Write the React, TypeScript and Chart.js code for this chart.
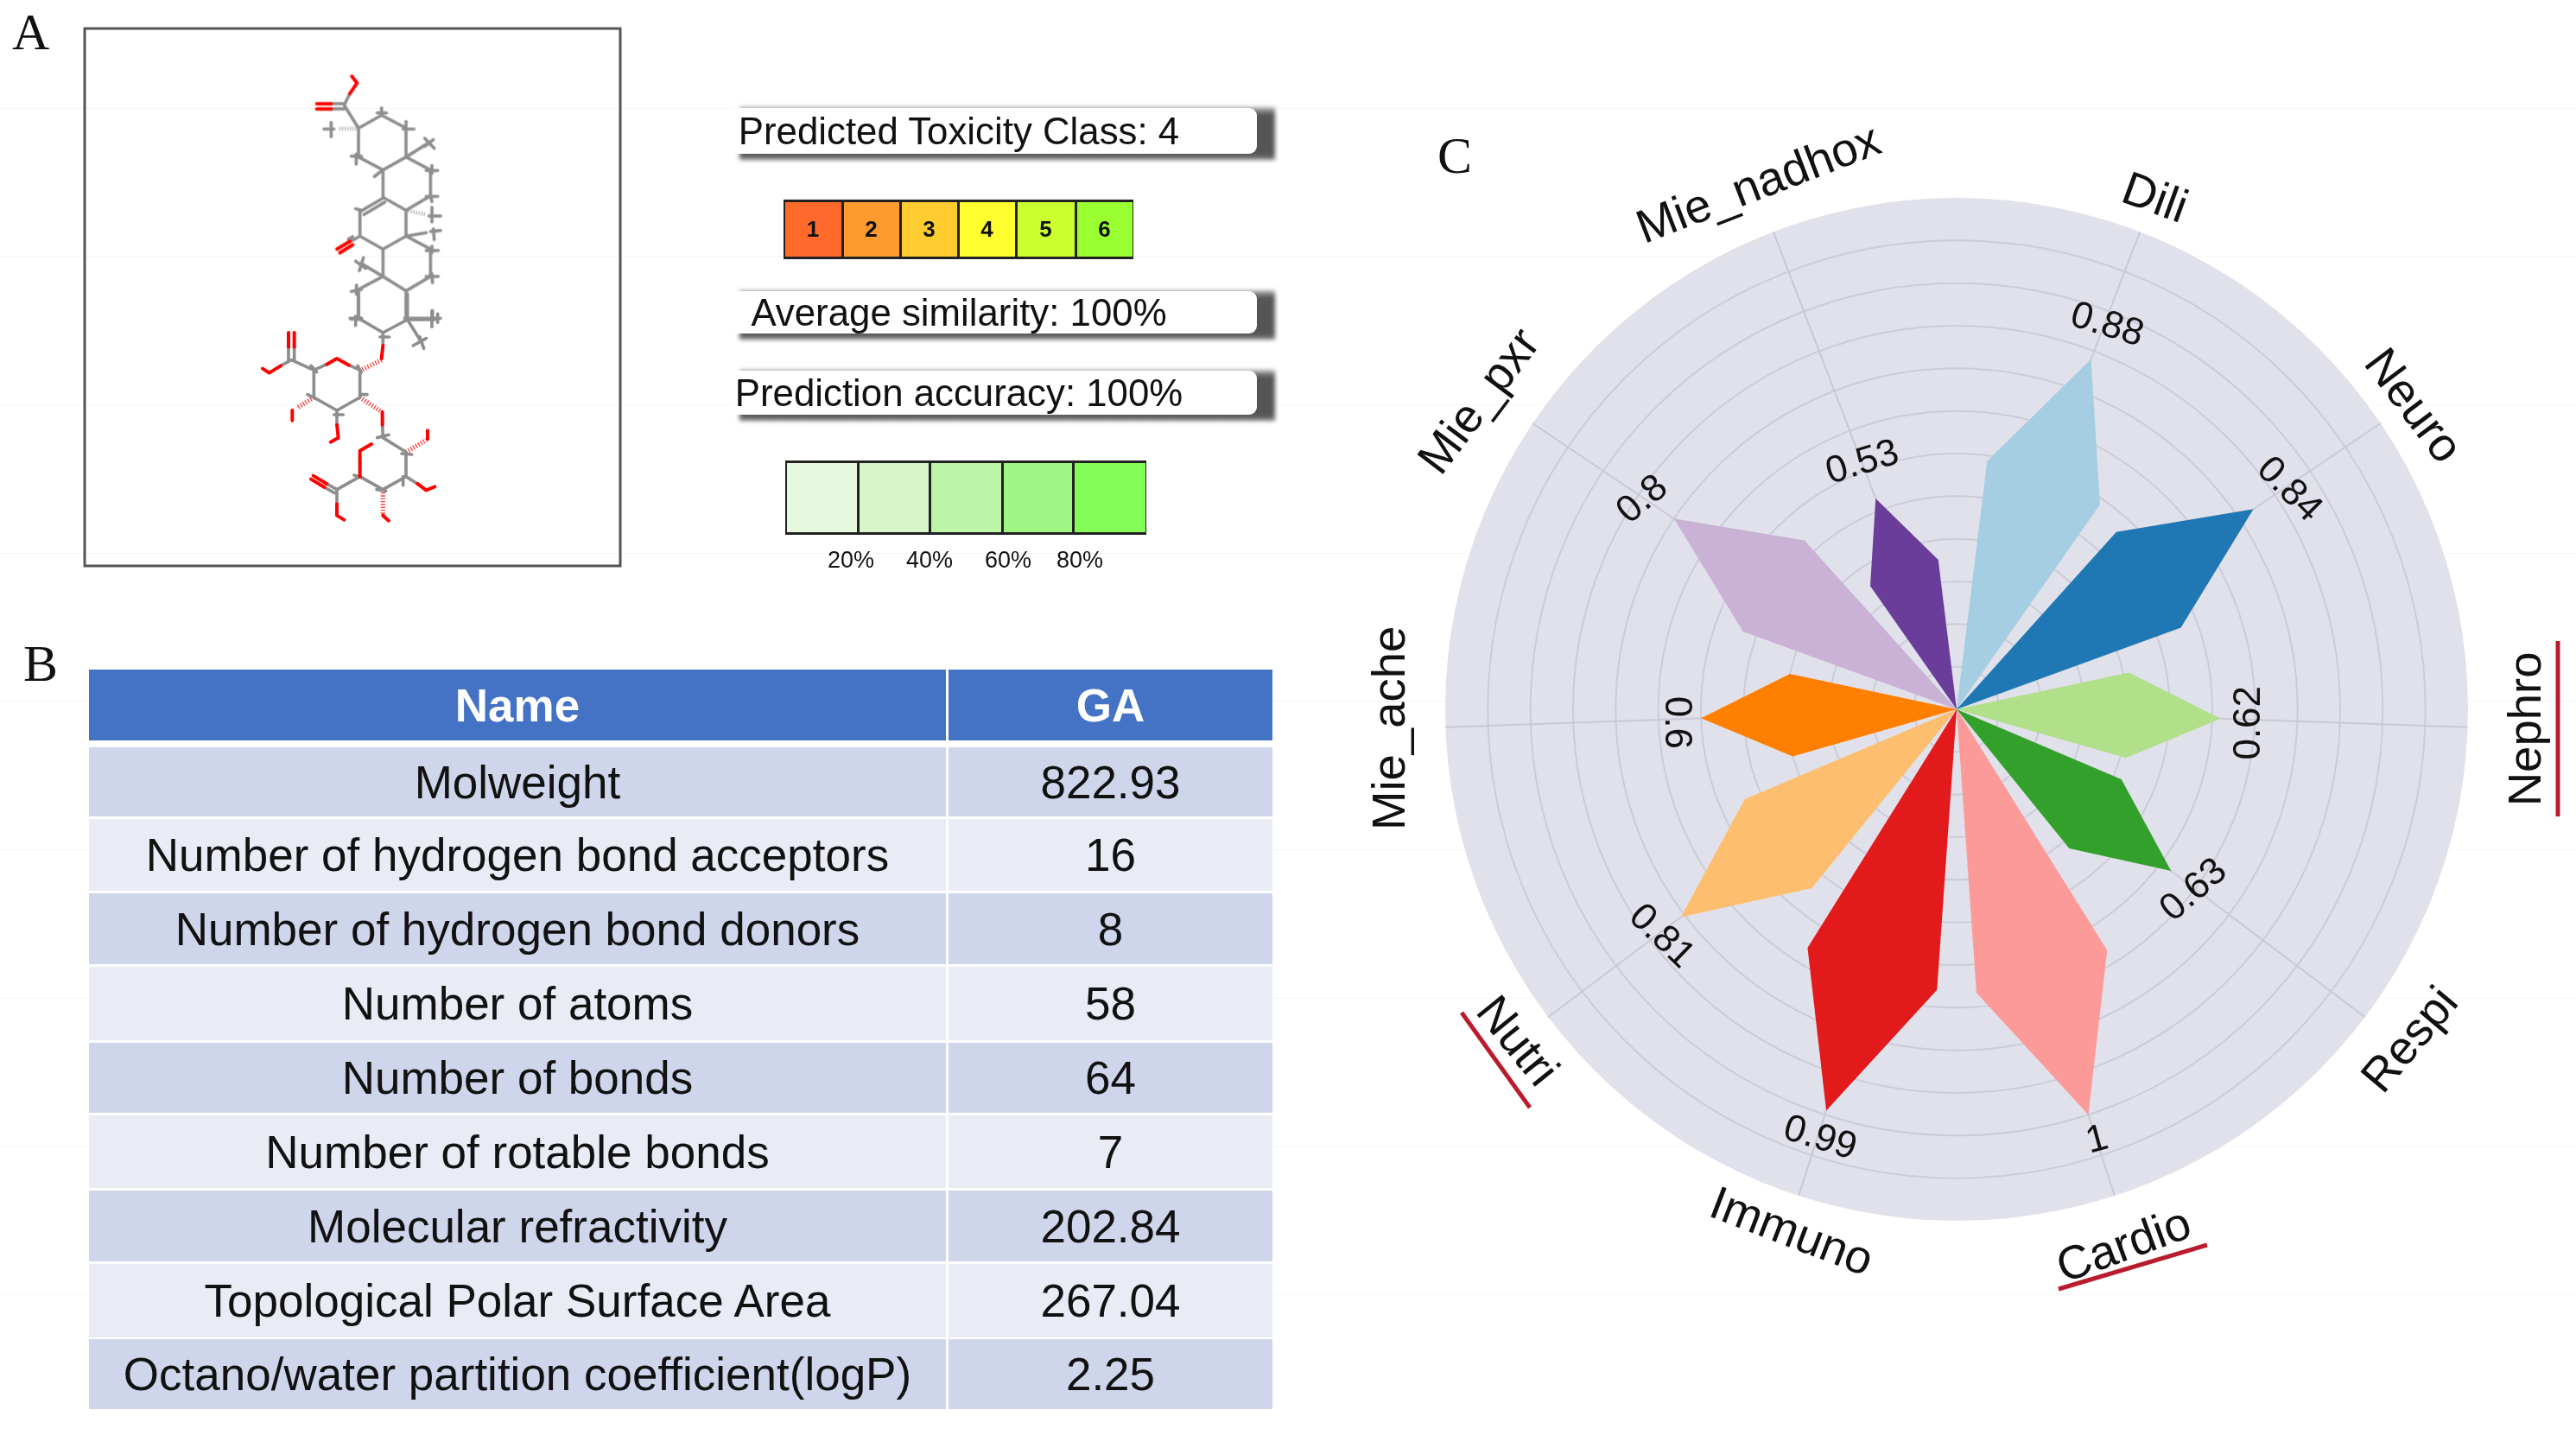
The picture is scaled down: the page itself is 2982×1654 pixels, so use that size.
import React, { useEffect, useRef } from "react";
import { Chart, registerables } from "chart.js";

Chart.register(...registerables);

// ---- data ----
const categories = ["Dili", "Neuro", "Nephro", "Respi", "Cardio", "Immuno", "Nutri", "Mie_ache", "Mie_pxr", "Mie_nadhox"];
const toxicityValues = [0.88, 0.84, 0.62, 0.63, 1, 0.99, 0.81, 0.6, 0.8, 0.53];
const sliceColors = ["#a6cee3", "#1f78b4", "#b2df8a", "#33a02c", "#fb9a99", "#e31a1c", "#fdbf6f", "#ff7f00", "#cab2d6", "#6a3d9a"];

const tableNames = [
  "Molweight",
  "Number of hydrogen bond acceptors",
  "Number of hydrogen bond donors",
  "Number of atoms",
  "Number of bonds",
  "Number of rotable bonds",
  "Molecular refractivity",
  "Topological Polar Surface Area",
  "Octano/water partition coefficient(logP)",
];
const tableValues = ["822.93", "16", "8", "58", "64", "7", "202.84", "267.04", "2.25"];

const classLabels = ["1", "2", "3", "4", "5", "6"];
const classColors = ["#ff6a2b", "#ff9a2f", "#ffcc30", "#ffff30", "#ccff30", "#9aff30"];
const accuracyColors = ["#e6f8dd", "#d6f5c9", "#bcf4a8", "#a0f585", "#84fd58"];
const accuracyLabels = ["20%", "40%", "60%", "80%"];

// ---- layout of the polar panel (degrees clockwise from the top; 1 category = 1 degree) ----
const spokeDegrees = [21, 56, 92, 127, 162, 198, 233, 268, 304, 339];
const labelDistance = [638, 633, 655, 648, 658, 634, 634, 654, 655, 649];
const labelRotation = [20, 53, -90, -50, -20, 21, 51, -90, -53, -21];
const labelNudgeX = [0, 2, 6, 9, -9, 4, -4, 0, -8, 4];
const labelNudgeY = [6, 4, 0, -6, -3, 4, 4, -1, 11, 0];
const valueOffset = [46, 47, 31, 31, 27, 30, 31, 31, 46, 48];
const valueRotation = [17, 45, -90, -41, -15, 17, 44, 90, -40, -17];
const SIDE_SPREAD = 14;
const SIDE_RATIO = 2 / 3;
const FONT = '"Liberation Sans", Arial, sans-serif';

const degreeLabels = Array.from({ length: 360 }, (_, d) => {
  const i = spokeDegrees.indexOf(d);
  return i >= 0 ? categories[i] : "";
});

function kite(index: number) {
  const data: (number | null)[] = new Array(360).fill(null);
  const d = spokeDegrees[index];
  const v = toxicityValues[index];
  const wrap = (a: number) => (a + 360) % 360;
  data[wrap(d - SIDE_SPREAD)] = v * SIDE_RATIO;
  data[wrap(d)] = v;
  data[wrap(d + SIDE_SPREAD)] = v * SIDE_RATIO;
  data[wrap(d + SIDE_SPREAD + 1)] = 0;
  return data;
}

const rotatedLabels = {
  id: "rotatedLabels",
  afterDatasetsDraw(chart: any) {
    const scale = chart.scales.r;
    const ctx = chart.ctx;
    ctx.save();
    ctx.fillStyle = "#111";
    ctx.textAlign = "center";
    ctx.textBaseline = "middle";
    categories.forEach((name, i) => {
      const a = scale.getPointPosition(spokeDegrees[i], labelDistance[i]);
      ctx.save();
      ctx.translate(a.x + labelNudgeX[i], a.y + labelNudgeY[i]);
      ctx.rotate((labelRotation[i] * Math.PI) / 180);
      ctx.font = `54.5px ${FONT}`;
      ctx.fillText(name, 0, 0);
      ctx.restore();
      const dist = scale.getDistanceFromCenterForValue(toxicityValues[i]) + valueOffset[i];
      const b = scale.getPointPosition(spokeDegrees[i], dist);
      ctx.save();
      ctx.translate(b.x + 2, b.y + 4);
      ctx.rotate((valueRotation[i] * Math.PI) / 180);
      ctx.font = `44px ${FONT}`;
      ctx.fillText(String(toxicityValues[i]), 0, 0);
      ctx.restore();
    });
    ctx.restore();
  },
};

function PolarChart() {
  const ref = useRef<HTMLCanvasElement>(null);
  useEffect(() => {
    const chart = new Chart(ref.current as HTMLCanvasElement, {
      type: "radar",
      data: {
        labels: degreeLabels,
        datasets: categories.map((name, i) => ({
          label: name,
          data: kite(i),
          backgroundColor: sliceColors[i],
          borderWidth: 0,
          pointRadius: 0,
          spanGaps: true,
          tension: 0,
          fill: "shape",
        })) as any,
      },
      options: {
        responsive: false,
        animation: false,
        devicePixelRatio: 1,
        layout: { padding: 128 },
        plugins: { legend: { display: false }, tooltip: { enabled: false } },
        scales: {
          r: {
            min: 0,
            max: 1.2,
            backgroundColor: "#e0e1ea",
            ticks: { display: false, stepSize: 0.1 },
            pointLabels: { display: false },
            grid: {
              circular: true,
              lineWidth: 2,
              color: (c: any) => (c.tick && c.tick.value >= 1.19 ? "rgba(0,0,0,0)" : "#cbccd8"),
            },
            angleLines: {
              color: "#c8c9d5",
              lineWidth: (c: any) => (spokeDegrees.includes(c.index) ? 2 : 0),
            },
          },
        },
      } as any,
      plugins: [rotatedLabels],
    });
    return () => chart.destroy();
  }, []);
  return <canvas ref={ref} width={1440} height={1440} style={{ position: "absolute", left: 1545, top: 101, width: 1440, height: 1440 }} />;
}

// ---- table geometry ----
const rowTops = [865, 948, 1034, 1119, 1207, 1291, 1378, 1463, 1550];
const rowBottoms = [945, 1031, 1116, 1204, 1288, 1375, 1460, 1548, 1631];

function Cell(p: { left: number; top: number; w: number; h: number; bg?: string; color?: string; bold?: boolean; size?: number; children?: any }) {
  return (
    <div
      style={{
        position: "absolute",
        left: p.left,
        top: p.top,
        width: p.w,
        height: p.h,
        background: p.bg,
        color: p.color ?? "#111",
        fontWeight: p.bold ? 700 : 400,
        fontSize: p.size ?? 53,
        display: "flex",
        alignItems: "center",
        justifyContent: "center",
        whiteSpace: "nowrap",
      }}
    >
      {p.children}
    </div>
  );
}

function Banner(p: { top: number; bottom: number; text: string; textCx: number }) {
  const h = p.bottom - p.top;
  return (
    <div>
      <div
        style={{
          position: "absolute",
          left: 856,
          top: p.top - 1,
          width: 620,
          height: h + 8,
          filter: "blur(2.5px)",
          background: "linear-gradient(#bdbdbd 0%,#555 14%,#555 88%,#777 100%)",
        }}
      />
      <div style={{ position: "absolute", left: 1470, top: p.top - 4, width: 8, height: h + 14, background: "#fff", opacity: 0 }} />
      <div style={{ position: "absolute", left: 851, top: p.top, width: 604, height: h, background: "#fff", borderRadius: "0 9px 9px 0" }} />
      <div style={{ position: "absolute", left: p.textCx - 400, top: p.top, width: 800, height: h, fontSize: 43.8, color: "#111", display: "flex", alignItems: "center", justifyContent: "center", whiteSpace: "nowrap" }}>
        {p.text}
      </div>
    </div>
  );
}

// ---- molecule drawing, in units of one third of a pixel ----
type Seg = number[];
const gray4: Seg[] = [
  [405, 235, 485, 190, 570, 235, 570, 335, 490, 380, 405, 335, 405, 235],
  [405, 235, 355, 155, 375, 115],
  [355, 150, 310, 150], [355, 168, 310, 168],
  [285, 238, 320, 238], [310, 215, 310, 265],
  [470, 182, 502, 182], [485, 165, 485, 190],
  [570, 212, 570, 235], [560, 238, 598, 238],
  [380, 332, 415, 332], [397, 325, 397, 360],
  [490, 380, 460, 403],
  [570, 335, 650, 285], [635, 270, 668, 305], [665, 275, 635, 298],
  [570, 335, 655, 380, 655, 470, 570, 520], [640, 382, 680, 382], [660, 365, 660, 392],
  [640, 472, 680, 472], [655, 470, 660, 490],
  [490, 380, 490, 475, 570, 520, 570, 610, 490, 655, 410, 610, 410, 525],
  [410, 525, 490, 478], [424, 535, 496, 492], [395, 515, 415, 520],
  [410, 610, 375, 630], [385, 612, 370, 620],
  [570, 610, 640, 598], [655, 594, 690, 590], [665, 585, 668, 622],
  [650, 540, 690, 540], [660, 510, 660, 560],
  [570, 610, 655, 655, 655, 750, 570, 800, 490, 750, 490, 655],
  [640, 660, 682, 660], [660, 645, 660, 668],
  [640, 750, 682, 750], [660, 740, 662, 772],
  [490, 750, 415, 705], [395, 697, 430, 722], [422, 685, 408, 730],
  [490, 750, 405, 795, 405, 900], [380, 802, 415, 795], [398, 780, 398, 812],
  [570, 800, 570, 900], [375, 895, 415, 895], [565, 895, 690, 895], [662, 868, 662, 900],
];
const hash4: Seg[] = [[405, 237, 335, 237], [570, 520, 640, 535]];
const red4: Seg[] = [
  [375, 115, 400, 78, 382, 55],
  [310, 150, 260, 150], [310, 168, 260, 168],
  [375, 628, 330, 655], [385, 640, 340, 668],
];
const gray5: Seg[] = [
  [405, 0, 405, 85, 490, 135, 575, 90, 575, 0],
  [380, 88, 415, 85], [395, 78, 395, 110],
  [575, 90, 670, 90], [660, 60, 660, 115], [680, 70, 680, 100],
  [575, 90, 625, 170], [595, 180, 640, 155], [618, 150, 632, 190],
  [490, 135, 490, 180], [480, 150, 512, 150],
  [372, 248, 410, 265, 410, 360, 330, 405, 250, 360, 250, 265, 295, 245],
  [250, 265, 172, 230, 135, 250], [162, 230, 162, 185], [182, 230, 182, 185],
  [240, 250, 260, 272], [402, 250, 415, 272], [415, 350, 435, 350], [228, 350, 258, 365],
  [330, 405, 330, 455], [320, 420, 352, 420],
  [488, 455, 490, 500, 570, 550, 570, 635, 490, 680, 410, 635], [470, 500, 510, 490], [555, 555, 590, 558], [560, 635, 560, 665],
  [468, 680, 500, 685],
  [410, 635, 330, 680], [390, 630, 420, 640],
  [330, 680, 295, 660], [322, 692, 287, 672],
  [330, 680, 330, 730],
  [570, 635, 610, 660],
];
const red5: Seg[] = [
  [295, 245, 330, 225, 372, 248],
  [490, 180, 485, 225],
  [162, 185, 162, 135], [182, 185, 182, 135],
  [135, 250, 95, 275, 72, 260],
  [175, 405, 175, 440],
  [330, 455, 335, 500, 308, 515],
  [488, 410, 488, 455],
  [410, 590, 410, 545, 450, 522],
  [410, 635, 410, 590],
  [645, 475, 645, 505],
  [610, 660, 640, 682, 670, 670],
  [490, 770, 510, 788],
  [295, 660, 248, 632], [287, 672, 240, 644],
  [330, 730, 330, 770, 355, 785],
];
const hash5Red: Seg[] = [[485, 230, 415, 265], [250, 360, 190, 397], [410, 360, 482, 408], [570, 550, 640, 508], [490, 680, 490, 770]];

function Lines(p: { segs: Seg[]; stroke: string; w: number; dash?: string }) {
  return (
    <g fill="none" stroke={p.stroke} strokeWidth={p.w} strokeDasharray={p.dash} strokeLinecap={p.dash ? "butt" : "round"} strokeLinejoin="round">
      {p.segs.map((s, i) => (
        <polyline key={i} points={s.join(" ")} />
      ))}
    </g>
  );
}

function Overlay() {
  return (
    <svg width={2982} height={1654} style={{ position: "absolute", left: 0, top: 0 }}>
      <rect x={98} y={33} width={620} height={622} fill="none" stroke="#555" strokeWidth={3} />
      <g style={{ filter: "blur(0.6px)" }}>
        <g transform="translate(280 70) scale(0.3333)">
          <Lines segs={hash4} stroke="#9a9a9a" w={14} dash="3 6" />
          <Lines segs={gray4} stroke="#8e8e8e" w={11} />
          <Lines segs={red4} stroke="#ff0000" w={12} />
        </g>
        <g transform="translate(280 340) scale(0.3333)">
          <Lines segs={hash5Red} stroke="#ff4040" w={16} dash="4 6" />
          <Lines segs={gray5} stroke="#8e8e8e" w={11} />
          <Lines segs={red5} stroke="#ff0000" w={12} />
        </g>
      </g>
      <line x1={2961} y1={742} x2={2961} y2={945} stroke="#b91c2c" strokeWidth={5} />
      <line x1={2383} y1={1492} x2={2555} y2={1441} stroke="#b91c2c" strokeWidth={5} />
      <line x1={1692} y1={1172} x2={1771} y2={1282} stroke="#b91c2c" strokeWidth={5} />
    </svg>
  );
}

const faintLines = [125, 296, 468, 640, 811, 983, 1155, 1326, 1498];
const classEdges = [907, 975, 1042, 1109, 1176, 1245, 1312];
const accuracyEdges = [909, 993, 1076, 1160, 1242, 1327];
const accuracyLabelCenters = [985, 1076, 1167, 1250];

export default function App() {
  return (
    <div style={{ position: "fixed", left: 0, top: 0, width: 2982, height: 1654, overflow: "hidden", background: "#fff", fontFamily: FONT }}>
      {faintLines.map((y) => (
        <div key={y} style={{ position: "absolute", left: 0, top: y, width: 2982, height: 1, background: "#f6f6f6" }} />
      ))}

      <PolarChart />
      <Overlay />

      {[["A", 14, 7], ["B", 27, 738], ["C", 1664, 150]].map(([t, l, tp]) => (
        <div key={t as string} style={{ position: "absolute", left: l as number, top: tp as number, fontFamily: '"Liberation Serif", serif', fontSize: 60, lineHeight: "60px", color: "#111" }}>
          {t}
        </div>
      ))}

      <Banner top={125} bottom={178} text="Predicted Toxicity Class: 4" textCx={1110} />
      <Banner top={337} bottom={386} text="Average similarity: 100%" textCx={1110} />
      <Banner top={429} bottom={480} text="Prediction accuracy: 100%" textCx={1110} />

      <div style={{ position: "absolute", left: 907, top: 231, width: 405, height: 69, boxSizing: "border-box", background: "#222" }} />
      {classLabels.map((t, i) => (
        <Cell key={t} left={classEdges[i] + 1.5} top={234} w={classEdges[i + 1] - classEdges[i] - 3} h={63} bg={classColors[i]} bold size={26}>
          {t}
        </Cell>
      ))}

      <div style={{ position: "absolute", left: 909, top: 533, width: 418, height: 86, background: "#222" }} />
      {accuracyColors.map((c, i) => (
        <div key={c} style={{ position: "absolute", left: accuracyEdges[i] + 1.5, top: 535.5, width: accuracyEdges[i + 1] - accuracyEdges[i] - 3, height: 80, background: c }} />
      ))}
      {accuracyLabels.map((t, i) => (
        <Cell key={t} left={accuracyLabelCenters[i] - 50} top={630} w={100} h={36} size={27}>
          {t}
        </Cell>
      ))}

      <Cell left={103} top={775} w={992} h={82} bg="#4472c4" color="#fff" bold>Name</Cell>
      <Cell left={1098} top={775} w={375} h={82} bg="#4472c4" color="#fff" bold>GA</Cell>
      {tableNames.map((name, i) => {
        const bg = i % 2 === 0 ? "#cfd5ea" : "#e9ebf5";
        const h = rowBottoms[i] - rowTops[i];
        return (
          <React.Fragment key={name}>
            <Cell left={103} top={rowTops[i]} w={992} h={h} bg={bg}>{name}</Cell>
            <Cell left={1098} top={rowTops[i]} w={375} h={h} bg={bg}>{tableValues[i]}</Cell>
          </React.Fragment>
        );
      })}
    </div>
  );
}
